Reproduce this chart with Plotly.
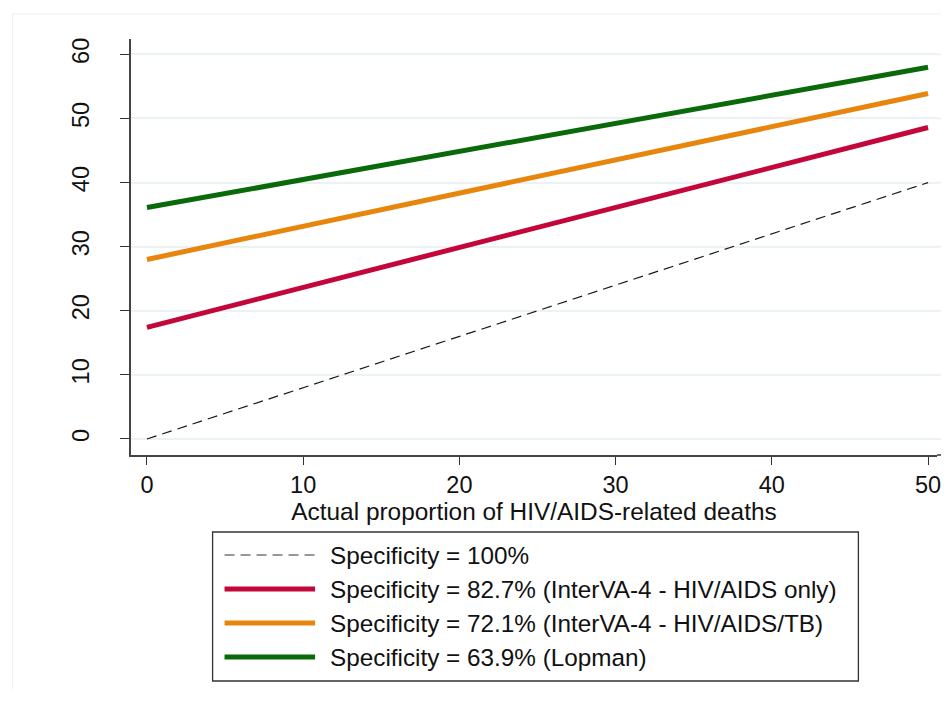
import plotly.graph_objects as go

# ---- data ----
x_actual = [0, 50]
spec_100 = [0, 40]
spec_827 = [17.4, 48.6]
spec_721 = [28.0, 53.9]
spec_639 = [36.1, 58.0]

series_names = [
    "Specificity = 100%",
    "Specificity = 82.7% (InterVA-4 - HIV/AIDS only)",
    "Specificity = 72.1% (InterVA-4 - HIV/AIDS/TB)",
    "Specificity = 63.9% (Lopman)",
]
series_values = [spec_100, spec_827, spec_721, spec_639]
series_colors = ["#1a1a1a", "#C4073A", "#E8850C", "#0A6A0A"]
series_widths = [1.2, 5, 5, 5]
series_dash = ["10px,6px", "solid", "solid", "solid"]

x_ticks = [0, 10, 20, 30, 40, 50]
y_ticks = [0, 10, 20, 30, 40, 50, 60]
x_title = "Actual proportion of HIV/AIDS-related deaths"

FONT = "Arial, Liberation Sans, sans-serif"
OFF = 8  # page body margin
W, H = 949 - OFF, 709 - 2 * OFF - 12
ML, MR, MT, MB = 131 - OFF, 8, 39 - OFF, H - (455 - OFF)
PW, PH = W - ML - MR, H - MT - MB
X_RIGHT = 50 + (941 - 932) / 15.7  # axis end at the right edge of the plot area


def px(xp):
    return (xp - OFF - ML) / PW


def py(yp):
    return (H - MB - (yp - OFF)) / PH


fig = go.Figure()
for name, vals, col, wd, ds in zip(series_names, series_values, series_colors,
                                   series_widths, series_dash):
    fig.add_trace(go.Scatter(
        x=x_actual, y=vals, mode="lines", name=name, showlegend=False,
        line=dict(color=col, width=wd, dash=ds), hoverinfo="skip", cliponaxis=False))

shapes = []
annotations = []
# faint outer graph region border
shapes.append(dict(type="rect", xref="paper", yref="paper",
                   x0=px(12), x1=px(960), y0=py(14), y1=py(730),
                   line=dict(color="#EDF0F0", width=1), layer="below"))
# extend axis line and gridlines to the window edge
shapes.append(dict(type="line", xref="paper", yref="paper",
                   x0=1, x1=px(960), y0=0, y1=0,
                   line=dict(color="#444444", width=1.6)))
for yv in y_ticks:
    shapes.append(dict(type="line", xref="paper", yref="y",
                       x0=1, x1=px(960), y0=yv, y1=yv,
                       line=dict(color="#EAF2F3", width=2), layer="below"))
# legend box
shapes.append(dict(type="rect", xref="paper", yref="paper",
                   x0=px(213), x1=px(862), y0=py(532), y1=py(681),
                   line=dict(color="#333333", width=1.3), fillcolor="white"))
row_y = [555, 589, 623, 657]
for name, col, wd, ds, ry in zip(series_names, series_colors, series_widths,
                                 series_dash, row_y):
    shapes.append(dict(type="line", xref="paper", yref="paper",
                       x0=px(225), x1=px(316), y0=py(ry), y1=py(ry),
                       line=dict(color="#333333" if ds != "solid" else col,
                                 width=wd, dash=ds)))
    annotations.append(dict(xref="paper", yref="paper", x=px(329), y=py(ry),
                            xanchor="left", yanchor="middle", showarrow=False,
                            text=name, font=dict(family=FONT, size=24.3, color="#111111")))

fig.update_layout(
    width=W, height=H,
    margin=dict(l=ML, r=MR, t=MT, b=MB, pad=0),
    paper_bgcolor="white", plot_bgcolor="white",
    font=dict(family=FONT, color="#111111"),
    shapes=shapes, annotations=annotations,
    showlegend=False,
)
fig.update_xaxes(
    range=[-1.02, X_RIGHT], tickvals=x_ticks, ticks="outside", ticklen=8,
    tickwidth=1.3, tickcolor="#333333", showline=True, linecolor="#444444",
    linewidth=1.6, showgrid=False, zeroline=False,
    tickfont=dict(family=FONT, size=23.5, color="#111111"),
    title=dict(text=x_title, font=dict(family=FONT, size=24.4, color="#111111"), standoff=0),
)
fig.update_yaxes(
    range=[-2.5, 62.4], tickvals=y_ticks, ticks="outside", ticklen=9,
    tickwidth=1.3, tickcolor="#333333", showline=True, linecolor="#444444",
    linewidth=1.6, showgrid=True, gridcolor="#EAF2F3", gridwidth=2,
    zeroline=False, tickangle=-90, ticklabelstandoff=22,
    tickfont=dict(family=FONT, size=23.5, color="#111111"),
)

fig.write_html("out.html")
